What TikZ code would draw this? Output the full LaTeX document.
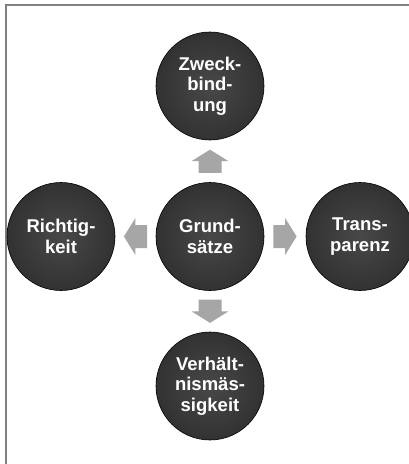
\documentclass[tikz,border=0pt]{standalone}
\usepackage{fontspec}
\setmainfont{Liberation Sans}
\usetikzlibrary{calc}
\definecolor{frameline}{RGB}{128,128,128}
\definecolor{ballin}{RGB}{72,72,72}
\definecolor{ballout}{RGB}{50,50,50}
\definecolor{arrowfill}{RGB}{166,166,166}
\tikzset{
  ball/.style={circle, draw=black, line width=0.6pt, minimum size=108pt, inner sep=0pt,
    shading=radial, inner color=ballin, outer color=ballout,
    text=white, align=center, font=\fontsize{18.5}{20.5}\selectfont\bfseries},
  blockarrow/.style={fill=arrowfill, draw=none},
}
% block arrow pointing along local +x, centred on the origin
\newcommand\blockarrowpath{(-11.6,-11.5) -- (0.1,-11.5) -- (0.1,-18.5) -- (11.6,0)
  -- (0.1,18.5) -- (0.1,11.5) -- (-11.6,11.5) -- cycle}
\begin{document}
\begin{tikzpicture}[x=1pt, y=-1pt]
  \useasboundingbox (0,0) rectangle (409,464);
  % open frame: only the left and top edges are drawn
  \draw[frameline, line width=2pt] (5.5,464) -- (5.5,4.5) -- (409,4.5);

  \node[ball] (c) at (210,236.5) {Grund-\\sätze};
  \node[ball] (t) at (210,86) {Zweck-\\bind-\\ung};
  \node[ball] (b) at (210,386) {Verhält-\\nismäs-\\sigkeit};
  \node[ball] (l) at (61,236.5) {Richtig-\\keit};
  \node[ball] (r) at (360,236.5) {Trans-\\parenz};

  \coordinate (mu) at ($(c)!0.5!(t)$);
  \coordinate (md) at ($(c)!0.5!(b)$);
  \coordinate (ml) at ($(c)!0.5!(l)$);
  \coordinate (mr) at ($(c)!0.5!(r)$);
  \path[blockarrow, shift={(mu)}, rotate=90]  \blockarrowpath;
  \path[blockarrow, shift={(md)}, rotate=270] \blockarrowpath;
  \path[blockarrow, shift={(ml)}, rotate=180] \blockarrowpath;
  \path[blockarrow, shift={(mr)}]             \blockarrowpath;
\end{tikzpicture}
\end{document}
